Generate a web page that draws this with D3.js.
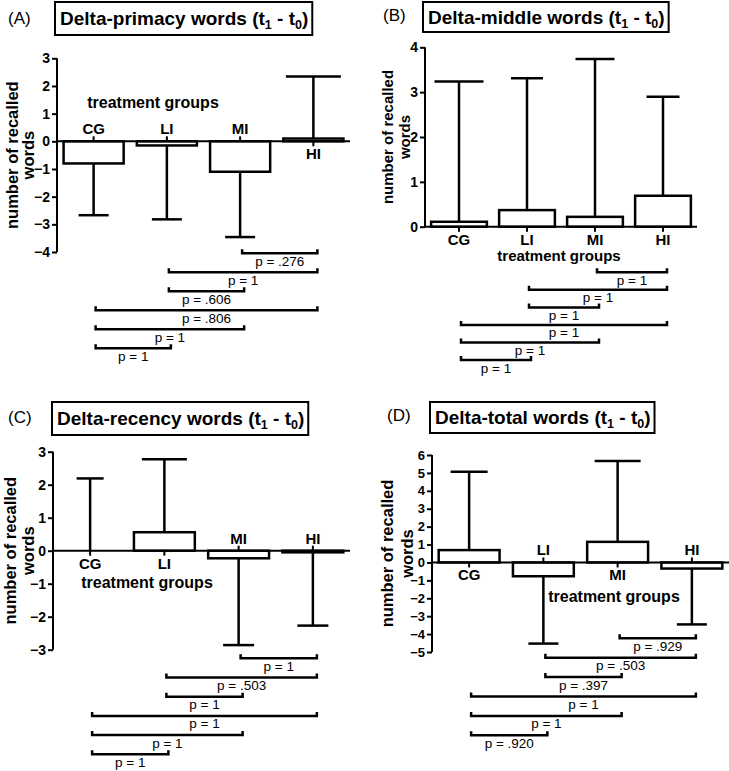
<!DOCTYPE html>
<html><head><meta charset="utf-8">
<script src="https://cdn.jsdelivr.net/npm/d3@7"></script>
<style>
html,body{margin:0;padding:0;background:#fff;}
svg{display:block;font-family:"Liberation Sans",Arial,sans-serif;}
</style></head>
<body>
<svg id="chart" width="729" height="771"></svg>
<script>
// ---------- data ----------
const categories = ["CG", "LI", "MI", "HI"];
const pairs = [[2,3],[1,3],[1,2],[0,3],[0,2],[0,1]];

const primacyMeans = [-0.8, -0.15, -1.1, 0.1];
const primacySD    = [1.87, 2.67, 2.36, 2.24];
const primacyP     = [".276", "1", ".606", ".806", "1", "1"];
const primacyTicks = [3, 2, 1, 0, -1, -2, -3, -4];

const middleMeans = [0.11, 0.37, 0.22, 0.69];
const middleSD    = [3.13, 2.94, 3.52, 2.21];
const middleP     = ["1", "1", "1", "1", "1", "1"];
const middleTicks = [4, 3, 2, 1, 0];

const recencyMeans = [0, 0.56, -0.23, -0.05];
const recencySD    = [2.19, 2.21, 2.63, 2.22];
const recencyP     = ["1", ".503", "1", "1", "1", "1"];
const recencyTicks = [3, 2, 1, 0, -1, -2, -3];

const totalMeans = [0.69, -0.77, 1.15, -0.34];
const totalSD    = [4.37, 3.76, 4.51, 3.12];
const totalP     = [".929", ".503", ".397", "1", "1", ".920"];
const totalTicks = [6, 5, 4, 3, 2, 1, 0, -1, -2, -3, -4, -5];

// ---------- layout ----------
const panels = [
  {letter:"(A)", title:"Delta-primacy words", means:primacyMeans, sd:primacySD, p:primacyP, ticks:primacyTicks,
   domain:[-4,3], x0:57, x1:350, yTop:58.3, yBot:252, letterPos:[8,24], box:[55,2,33],
   tg:[153,108], ylab:[18,34], ylabSize:16.5, brY0:253.3, brStep:19, caps:[30,30,30,55], tickFont:14},
  {letter:"(B)", title:"Delta-middle words", means:middleMeans, sd:middleSD, p:middleP, ticks:middleTicks,
   domain:[0,4], x0:425, x1:697, yTop:47.3, yBot:226.7, letterPos:[383,21], box:[423,2,30],
   tg:[559,261], ylab:[393,410], ylabSize:15, brY0:272.3, brStep:17.55, caps:[49,32,39,33], tickFont:14, tgSize:15},
  {letter:"(C)", title:"Delta-recency words", means:recencyMeans, sd:recencySD, p:recencyP, ticks:recencyTicks,
   domain:[-3,3], x0:53, x1:350, yTop:451.7, yBot:649.7, letterPos:[8,423], box:[52,402,33],
   tg:[147,588], ylab:[16,34], ylabSize:16.5, brY0:658.3, brStep:19.2, caps:[27,45,31,31], tickFont:14},
  {letter:"(D)", title:"Delta-total words", means:totalMeans, sd:totalSD, p:totalP, ticks:totalTicks,
   domain:[-5,6], x0:432, x1:729, yTop:455, yBot:652, letterPos:[387,421], box:[430,402,31],
   tg:[614,602], ylab:[393,413], ylabSize:16.5, brY0:638.3, brStep:19.4, caps:[37,30,46,30], tickFont:13}
];

const svg = d3.select("#chart");

panels.forEach(P => {
  const g = svg.append("g");
  const x = d3.scaleBand().domain(categories).range([P.x0, P.x1]).paddingInner(0.18).paddingOuter(0.09);
  const y = d3.scaleLinear().domain(P.domain).range([P.yBot, P.yTop]);
  const xc = c => x(c) + x.bandwidth()/2;
  const y0 = y(0);

  // panel letter
  g.append("text").attr("x", P.letterPos[0]).attr("y", P.letterPos[1])
    .attr("font-size", 17).text(P.letter);

  // title box
  const t = g.append("text").attr("x", P.box[0] + 5).attr("y", P.box[1] + P.box[2]/2 + 6.5)
    .attr("font-size", 19).attr("font-weight", "bold");
  t.append("tspan").text(P.title + " (t");
  t.append("tspan").attr("font-size", 12.5).attr("dy", 4).text("1");
  t.append("tspan").attr("dy", -4).text(" - t");
  t.append("tspan").attr("font-size", 12.5).attr("dy", 4).text("0");
  t.append("tspan").attr("dy", -4).text(")");
  const bb = t.node().getBBox();
  g.insert("rect", "text").attr("x", P.box[0]).attr("y", P.box[1])
    .attr("width", bb.width + 9).attr("height", P.box[2])
    .attr("fill", "#fff").attr("stroke", "#000").attr("stroke-width", 2);

  // y axis label
  const ymid = (P.yTop + P.yBot)/2;
  [["number of recalled", P.ylab[0]], ["words", P.ylab[1]]].forEach(([s, xx]) => {
    g.append("text").attr("transform", `translate(${xx},${ymid}) rotate(-90)`)
      .attr("text-anchor", "middle").attr("font-size", P.ylabSize).attr("font-weight", "bold").text(s);
  });

  // bars
  g.selectAll("rect.bar").data(categories).enter().append("rect").attr("class", "bar")
    .attr("x", c => x(c)).attr("width", x.bandwidth())
    .attr("y", (c,i) => Math.min(y(P.means[i]), y0))
    .attr("height", (c,i) => Math.abs(y(P.means[i]) - y0))
    .attr("fill", "#fff").attr("stroke", "#000").attr("stroke-width", 2.5);

  // error bars
  categories.forEach((c, i) => {
    const m = P.means[i];
    const end = m >= 0 ? m + P.sd[i] : m - P.sd[i];
    g.append("line").attr("x1", xc(c)).attr("x2", xc(c)).attr("y1", y(m)).attr("y2", y(end))
      .attr("stroke", "#000").attr("stroke-width", 2.5);
    g.append("line").attr("x1", xc(c) - P.caps[i]/2).attr("x2", xc(c) + P.caps[i]/2)
      .attr("y1", y(end)).attr("y2", y(end)).attr("stroke", "#000").attr("stroke-width", 2.5);
  });

  // y axis
  const yAxis = d3.axisLeft(y).tickValues(P.ticks).tickSize(5).tickPadding(2).tickFormat(d3.format("d"));
  const ya = g.append("g").attr("transform", `translate(${P.x0},0)`).call(yAxis);
  ya.select(".domain").attr("d", `M0,${y(P.domain[1])}V${y(P.domain[0])}`).attr("stroke-width", 2);
  ya.selectAll(".tick line").attr("stroke-width", 2);
  ya.selectAll(".tick text").attr("font-size", P.tickFont).attr("font-weight", "bold")
    .attr("font-family", "Liberation Sans, Arial, sans-serif").attr("fill", "#000");

  // x axis (zero line)
  g.append("line").attr("x1", P.x0).attr("x2", P.x1).attr("y1", y0).attr("y2", y0)
    .attr("stroke", "#000").attr("stroke-width", 2);

  // category ticks and labels
  categories.forEach((c, i) => {
    const above = P.means[i] < 0;
    g.append("line").attr("x1", xc(c)).attr("x2", xc(c)).attr("y1", y0)
      .attr("y2", above ? y0 - 5 : y0 + 5).attr("stroke", "#000").attr("stroke-width", 2);
    g.append("text").attr("x", xc(c)).attr("y", above ? y0 - 7 : y0 + 18)
      .attr("text-anchor", "middle").attr("font-size", 15).attr("font-weight", "bold").text(c);
  });

  // treatment groups label
  g.append("text").attr("x", P.tg[0]).attr("y", P.tg[1]).attr("text-anchor", "middle")
    .attr("font-size", P.tgSize || 16).attr("font-weight", "bold").text("treatment groups");

  // comparison brackets
  pairs.forEach(([a, b], k) => {
    const yy = P.brY0 + k * P.brStep;
    const xa = xc(categories[a]) + 2, xb = xc(categories[b]) + 4;
    g.append("path").attr("d", `M${xa},${yy-4}V${yy}H${xb}V${yy-4}`)
      .attr("fill", "none").attr("stroke", "#000").attr("stroke-width", 2.5);
    g.append("text").attr("x", (xa + xb)/2).attr("y", yy + 12.5).attr("text-anchor", "middle")
      .attr("font-size", 13.5).text("p = " + P.p[k]);
  });
});
</script>
</body></html>
